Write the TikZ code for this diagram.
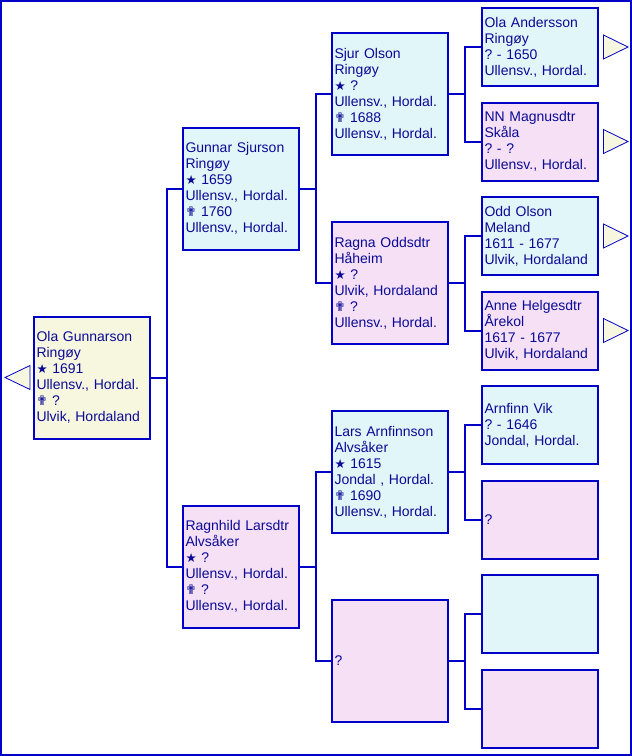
\documentclass[tikz,border=0pt]{standalone}
\usepackage{fontspec}
\setmainfont{Liberation Sans}
\newfontfamily\symfont{DejaVu Sans}
\usetikzlibrary{calc}
\frenchspacing

\definecolor{lineblue}{RGB}{0,0,200}
\definecolor{textblue}{RGB}{10,10,150}
\definecolor{rootfill}{RGB}{247,247,224}
\definecolor{manfill}{RGB}{224,246,248}
\definecolor{womanfill}{RGB}{246,224,246}

\newcommand{\born}{{\symfont\fontsize{12.5}{16}\selectfont ★}}
\newcommand{\died}{{\symfont\fontsize{13}{16}\selectfont ✟}}

\tikzset{
  person/.style={draw=lineblue, line width=2pt, rectangle, outer sep=0pt,
    inner xsep=2.5pt, inner ysep=0pt, minimum width=116pt, minimum height=122pt,
    text width=111pt, align=left, text=textblue,
    font=\fontsize{14}{16}\selectfont},
  gen4/.style={minimum height=78pt},
  man/.style={person, fill=manfill},
  woman/.style={person, fill=womanfill},
  link/.style={draw=lineblue, line width=2pt},
  moretri/.style={draw=lineblue, line width=0.8pt, fill=rootfill}
}

\begin{document}
\begin{tikzpicture}[x=1pt, y=-1pt]
  \useasboundingbox (0,0) rectangle (632,756);
  \draw[lineblue, line width=2pt] (1,1) rectangle (631,755);

  % proband
  \node[person, fill=rootfill] (root) at (92,377.5)
    {Ola Gunnarson\\Ringøy\\\born{} 1691\\Ullensv., Hordal.\\\died{} ?\\Ulvik, Hordaland};

  % parents
  \node[man] (gunnar) at (241,188.5)
    {Gunnar Sjurson\\Ringøy\\\born{} 1659\\Ullensv., Hordal.\\\died{} 1760\\Ullensv., Hordal.};
  \node[woman] (ragnhild) at (241,566.5)
    {Ragnhild Larsdtr\\Alvsåker\\\born{} ?\\Ullensv., Hordal.\\\died{} ?\\Ullensv., Hordal.};

  % grandparents
  \node[man] (sjur) at (390,94)
    {Sjur Olson\\Ringøy\\\born{} ?\\Ullensv., Hordal.\\\died{} 1688\\Ullensv., Hordal.};
  \node[woman] (ragna) at (390,283)
    {Ragna Oddsdtr\\Håheim\\\born{} ?\\Ulvik, Hordaland\\\died{} ?\\Ullensv., Hordal.};
  \node[man] (lars) at (390,472)
    {Lars Arnfinnson\\Alvsåker\\\born{} 1615\\Jondal , Hordal.\\\died{} 1690\\Ullensv., Hordal.};
  \node[woman] (unknownm) at (390,661) {?};

  % great-grandparents
  \node[man, gen4] (olaa) at (540,47)
    {Ola Andersson\\Ringøy\\? - 1650\\Ullensv., Hordal.};
  \node[woman, gen4] (nn) at (540,141.5)
    {NN Magnusdtr\\Skåla\\? - ?\\Ullensv., Hordal.};
  \node[man, gen4] (odd) at (540,236)
    {Odd Olson\\Meland\\1611 - 1677\\Ulvik, Hordaland};
  \node[woman, gen4] (anne) at (540,330.5)
    {Anne Helgesdtr\\Årekol\\1617 - 1677\\Ulvik, Hordaland};
  \node[man, gen4] (arnfinn) at (540,425)
    {Arnfinn Vik\\? - 1646\\Jondal, Hordal.};
  \node[woman, gen4] (unknownf) at (540,519.5) {?};
  \node[man, gen4] (emptym) at (540,614) {};
  \node[woman, gen4] (emptyf) at (540,708.5) {};

  % connectors
  \foreach \p/\a/\b in {root/gunnar/ragnhild, gunnar/sjur/ragna,
      ragnhild/lars/unknownm, sjur/olaa/nn, ragna/odd/anne,
      lars/arnfinn/unknownf, unknownm/emptym/emptyf} {
    \draw[link] (\p.east) -- ($(\p.east)!0.5!(\a.west |- \p.east)$) coordinate (j);
    \draw[link] (\a.west) -| (j) |- (\b.west);
  }

  % more ancestors
  \draw[moretri] ($(root.west)+(-4,-12)$) -- ($(root.west)+(-29,0)$)
    -- ($(root.west)+(-4,12)$) -- cycle;
  \foreach \n in {olaa, nn, odd, anne}
    \draw[moretri] ($(\n.east)+(5.5,-12)$) -- ($(\n.east)+(30,0)$)
      -- ($(\n.east)+(5.5,12)$) -- cycle;
\end{tikzpicture}
\end{document}
